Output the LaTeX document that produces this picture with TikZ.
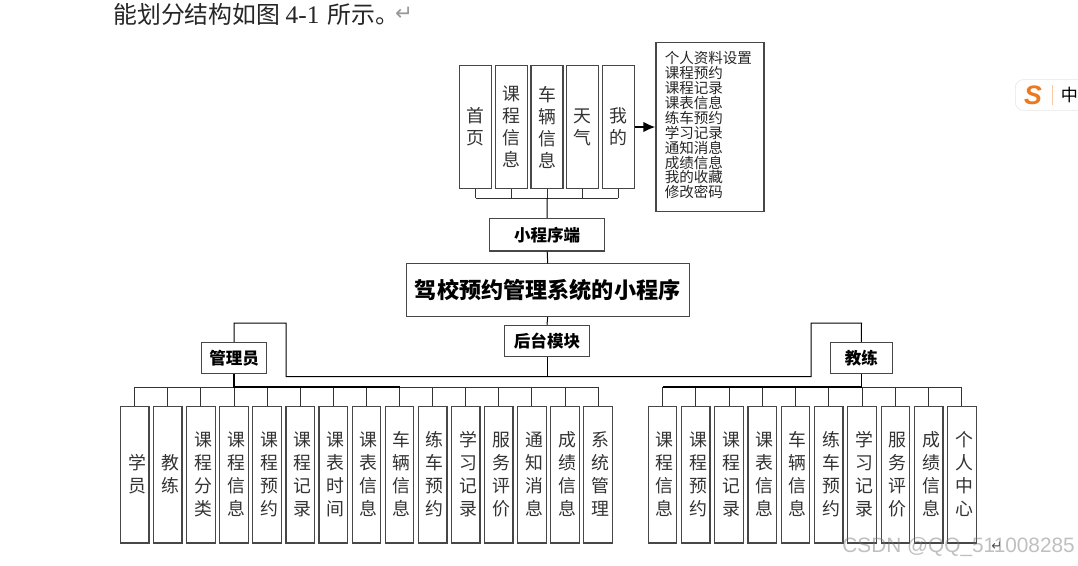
\documentclass[tikz,border=0pt]{standalone}
\usepackage{fontspec}
\setmainfont{Liberation Serif}
\newfontfamily\cjk{Noto Sans CJK SC}
\newfontfamily\arrowfont{DejaVu Sans}
\newfontfamily\markfont{Liberation Sans}
\usepackage{tikz}
\usetikzlibrary{arrows.meta}
\definecolor{boxline}{gray}{0.28}
\definecolor{imeorange}{RGB}{238,120,30}
\newcommand{\lowstack}[1]{\hspace*{3.4pt}\vbox{\kern2.6pt\hbox{\begin{tabular}{@{}c@{}}#1\end{tabular}}}}
\tikzset{
    column/.style={draw=boxline, line width=0.95pt, fill=white, inner sep=0pt, align=center,
        font=\cjk\fontsize{13.4}{16.5}\selectfont\color{black!80}},
    lowcolumn/.style={draw=boxline, line width=0.95pt, fill=white, inner sep=0pt, minimum width=21.4pt, minimum height=102.4pt,
        font=\cjk\fontsize{13.4}{17.1}\selectfont\color{black!80}},
    topcolumn/.style={column, minimum width=24pt, minimum height=91.8pt},
    titlebox/.style={draw=boxline, line width=0.8pt, fill=white, inner sep=0pt,
        font=\cjk\bfseries\fontsize{12.4}{14}\selectfont},
    link/.style={draw=black, line width=0.75pt},
    drop/.style={draw=black!80, line width=0.75pt}
}
\begin{document}
\begin{tikzpicture}[x=0.75pt, y=-0.75pt]
            \fill[white, use as bounding box] (0, 0) rectangle (1078, 565);
            \node[anchor=west, inner sep=0pt, font=\cjk\fontsize{17.9}{20}\selectfont\color{black!85}] (intro) at (113, 14)
                {能划分结构如图\hspace{4pt}{\rmfamily\fontsize{19}{20}\selectfont 4-1}\hspace{6pt}所示。};
            \node[inner sep=0pt, font=\arrowfont\fontsize{16}{18}\selectfont\color{black!40}] (introret) at (404, 14) {↵};

            \foreach \name/\cx [count=\i] in {首\\页/475.6, 课\\程\\信\\息/511.3, 车\\辆\\信\\息/547, 天\\气/582.7, 我\\的/618.3}
                \node[topcolumn] (top\i) at (\cx, 127) {\name};
            \node[draw=boxline, line width=0.95pt, fill=white, minimum width=81pt, minimum height=126.8pt, inner sep=0pt] (mine) at (710, 127) {};
            \node[anchor=north west, inner sep=0pt, align=left, font=\cjk\fontsize{10.9}{11.2}\selectfont\color{black!85}] (minetext) at (664.5, 51)
                {个人资料设置\\课程预约\\课程记录\\课表信息\\练车预约\\学习记录\\通知消息\\成绩信息\\我的收藏\\修改密码};
            \draw[line width=1.5pt, -{Latex[length=9pt, width=8pt]}] (top5.east) -- (top5.east -| mine.west);

            \node[titlebox, minimum width=86.4pt, minimum height=24.4pt] (mini) at (547.2, 234.7) {小程序端};
            \node[titlebox, minimum width=212pt, minimum height=39.4pt, font=\cjk\bfseries\fontsize{16.6}{18}\selectfont] (sys) at (547.7, 290.2) {驾校预约管理系统的小程序};
            \node[titlebox, minimum width=63.2pt, minimum height=23.6pt] (back) at (547, 341) {后台模块};
            \node[titlebox, minimum width=48.8pt, minimum height=23.6pt] (admin) at (234.2, 358.2) {管理员};
            \node[titlebox, minimum width=46.5pt, minimum height=23.6pt] (coach) at (861.3, 358.2) {教练};

            \coordinate (topbus) at (547, 198);
            \foreach \i in {1,...,5}
                \draw[drop] (top\i.south) -- (top\i.south |- topbus);
            \draw[drop] (top1.south |- topbus) -- (top5.south |- topbus);
            \draw[link] (topbus) -- (mini.north);
            \draw[link] (mini.south) -- (sys.north);
            \draw[link] (sys.south) -- (back.north);

            \coordinate (split) at (547, 376.5);
            \coordinate (splitleft) at (286, 376.5);
            \coordinate (splitright) at (811, 376.5);
            \draw[link] (back.south) -- (split);
            \draw[link] (admin.north) -- (234, 323) -- (286, 323) -- (splitleft) -- (splitright) -- (811, 323) -- (861.5, 323) -- (coach.north);

            \foreach \name [count=\i] in {学\\员, 教\\练, 课\\程\\分\\类, 课\\程\\信\\息, 课\\程\\预\\约, 课\\程\\记\\录, 课\\表\\时\\间, 课\\表\\信\\息, 车\\辆\\信\\息, 练\\车\\预\\约, 学\\习\\记\\录, 服\\务\\评\\价, 通\\知\\消\\息, 成\\绩\\信\\息, 系\\统\\管\\理}
                \node[lowcolumn] (adm\i) at ({134.7+33.1*(\i-1)}, 474.8) {\lowstack{\name}};
            \coordinate (admbus) at (234.2, 387);
            \foreach \i in {1,...,15}
                \draw[drop] (adm\i.north) -- (adm\i.north |- admbus);
            \draw[drop] (adm1.north |- admbus) -- (adm15.north |- admbus);
            \draw[line width=1.1pt] (admin.south) -- (admbus) -- (adm9.north |- admbus);

            \foreach \name [count=\i] in {课\\程\\信\\息, 课\\程\\预\\约, 课\\程\\记\\录, 课\\表\\信\\息, 车\\辆\\信\\息, 练\\车\\预\\约, 学\\习\\记\\录, 服\\务\\评\\价, 成\\绩\\信\\息, 个\\人\\中\\心}
                \node[lowcolumn] (tch\i) at ({662.5+33.27*(\i-1)}, 474.8) {\lowstack{\name}};
            \coordinate (tchbus) at (861.3, 387);
            \foreach \i in {1,...,10}
                \draw[drop] (tch\i.north) -- (tch\i.north |- tchbus);
            \draw[drop] (tch1.north |- tchbus) -- (tch10.north |- tchbus);
            \draw[line width=1.1pt] (coach.south) -- (tchbus) -- (tch1.north |- tchbus);

            \node[draw=black!10, fill=white, rounded corners=6pt, minimum width=75pt, minimum height=23pt, anchor=west, inner sep=0pt] (ime) at (1015, 95) {};
            \node[inner sep=0pt, font=\markfont\bfseries\itshape\fontsize{20}{22}\selectfont\color{imeorange}] (imelogo) at (1033, 95) {S};
            \node[inner sep=0pt, font=\cjk\fontsize{12.8}{14}\selectfont] (imelang) at (1069.5, 95) {中};
            \coordinate (imetop) at (1052, 85);
            \coordinate (imebot) at (1052, 105);
            \draw[imeorange!40, line width=0.5pt] (imetop) -- (imebot);

            \node[inner sep=0pt, font=\arrowfont\fontsize{10}{12}\selectfont\color{black!70}] (endret) at (997, 546) {↵};
            \node[anchor=east, inner sep=0pt, opacity=0.45, font=\markfont\fontsize{15.6}{17}\selectfont\color{black!55}] (stamp) at (1075, 547) {CSDN @QQ\_511008285};
        \end{tikzpicture}
\end{document}
